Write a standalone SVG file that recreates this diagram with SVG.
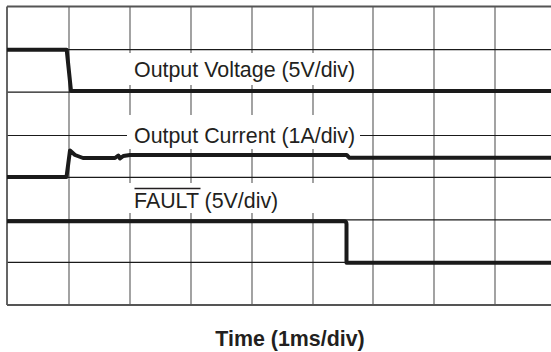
<svg xmlns="http://www.w3.org/2000/svg" width="551" height="352" viewBox="0 0 551 352">
<style>
.hg{stroke:#1a1a1a;stroke-width:1.2;fill:none}
.vg{stroke:#8c8c8c;stroke-width:1.6;fill:none}
.bd{stroke:#555;stroke-width:1.8;fill:none}
.tr{stroke:#1a1a1a;stroke-width:4;fill:none;stroke-linejoin:round}
.lb{font-family:"Liberation Sans",Arial,sans-serif;font-size:21.4px;fill:#231f20}
.bg{fill:#fff}
</style>
<rect width="551" height="352" fill="#fff"/>
<g id="grid">
<path class="vg" d="M69,7V305M130,7V305M191,7V305M252,7V305M313,7V305M373,7V305M434,7V305M495,7V305"/>
<path class="hg" d="M7,49.6H551M7,92.1H551M7,135.5H551M7,177.3H551M7,219.9H551M7,262.4H551"/>
<path class="bd" d="M7,6.5H551M7,305H551M7,6.5V305"/>
</g>
<g id="label-bg">
<rect class="bg" x="127" y="53" width="235" height="32"/>
<rect class="bg" x="127" y="115" width="233" height="34"/>
<rect class="bg" x="127" y="183" width="193" height="30"/>
</g>
<g id="traces">
<path id="voltage" class="tr" d="M7,49.7H66.7L71,91H551"/>
<path id="current" class="tr" d="M7,177H66.5L70,150.5L75,155L83,158H115L118.3,155.5L120,158.5L123.3,156L130,155H346.7L349.5,157.8H551"/>
<path id="fault" class="tr" d="M7,221.3H344Q346.5,221.3 346.5,224V262.7H551"/>
</g>
<g id="labels">
<text class="lb" x="134" y="77">Output Voltage (5V/div)</text>
<text class="lb" x="134" y="142.5">Output Current (1A/div)</text>
<text class="lb" x="134" y="208">FAULT (5V/div)</text>
<line x1="134.5" y1="188.5" x2="200.5" y2="188.5" stroke="#231f20" stroke-width="1.5"/>
<text class="lb" x="290" y="346" text-anchor="middle" font-weight="bold" font-size="21.8px">Time (1ms/div)</text>
</g>
</svg>
